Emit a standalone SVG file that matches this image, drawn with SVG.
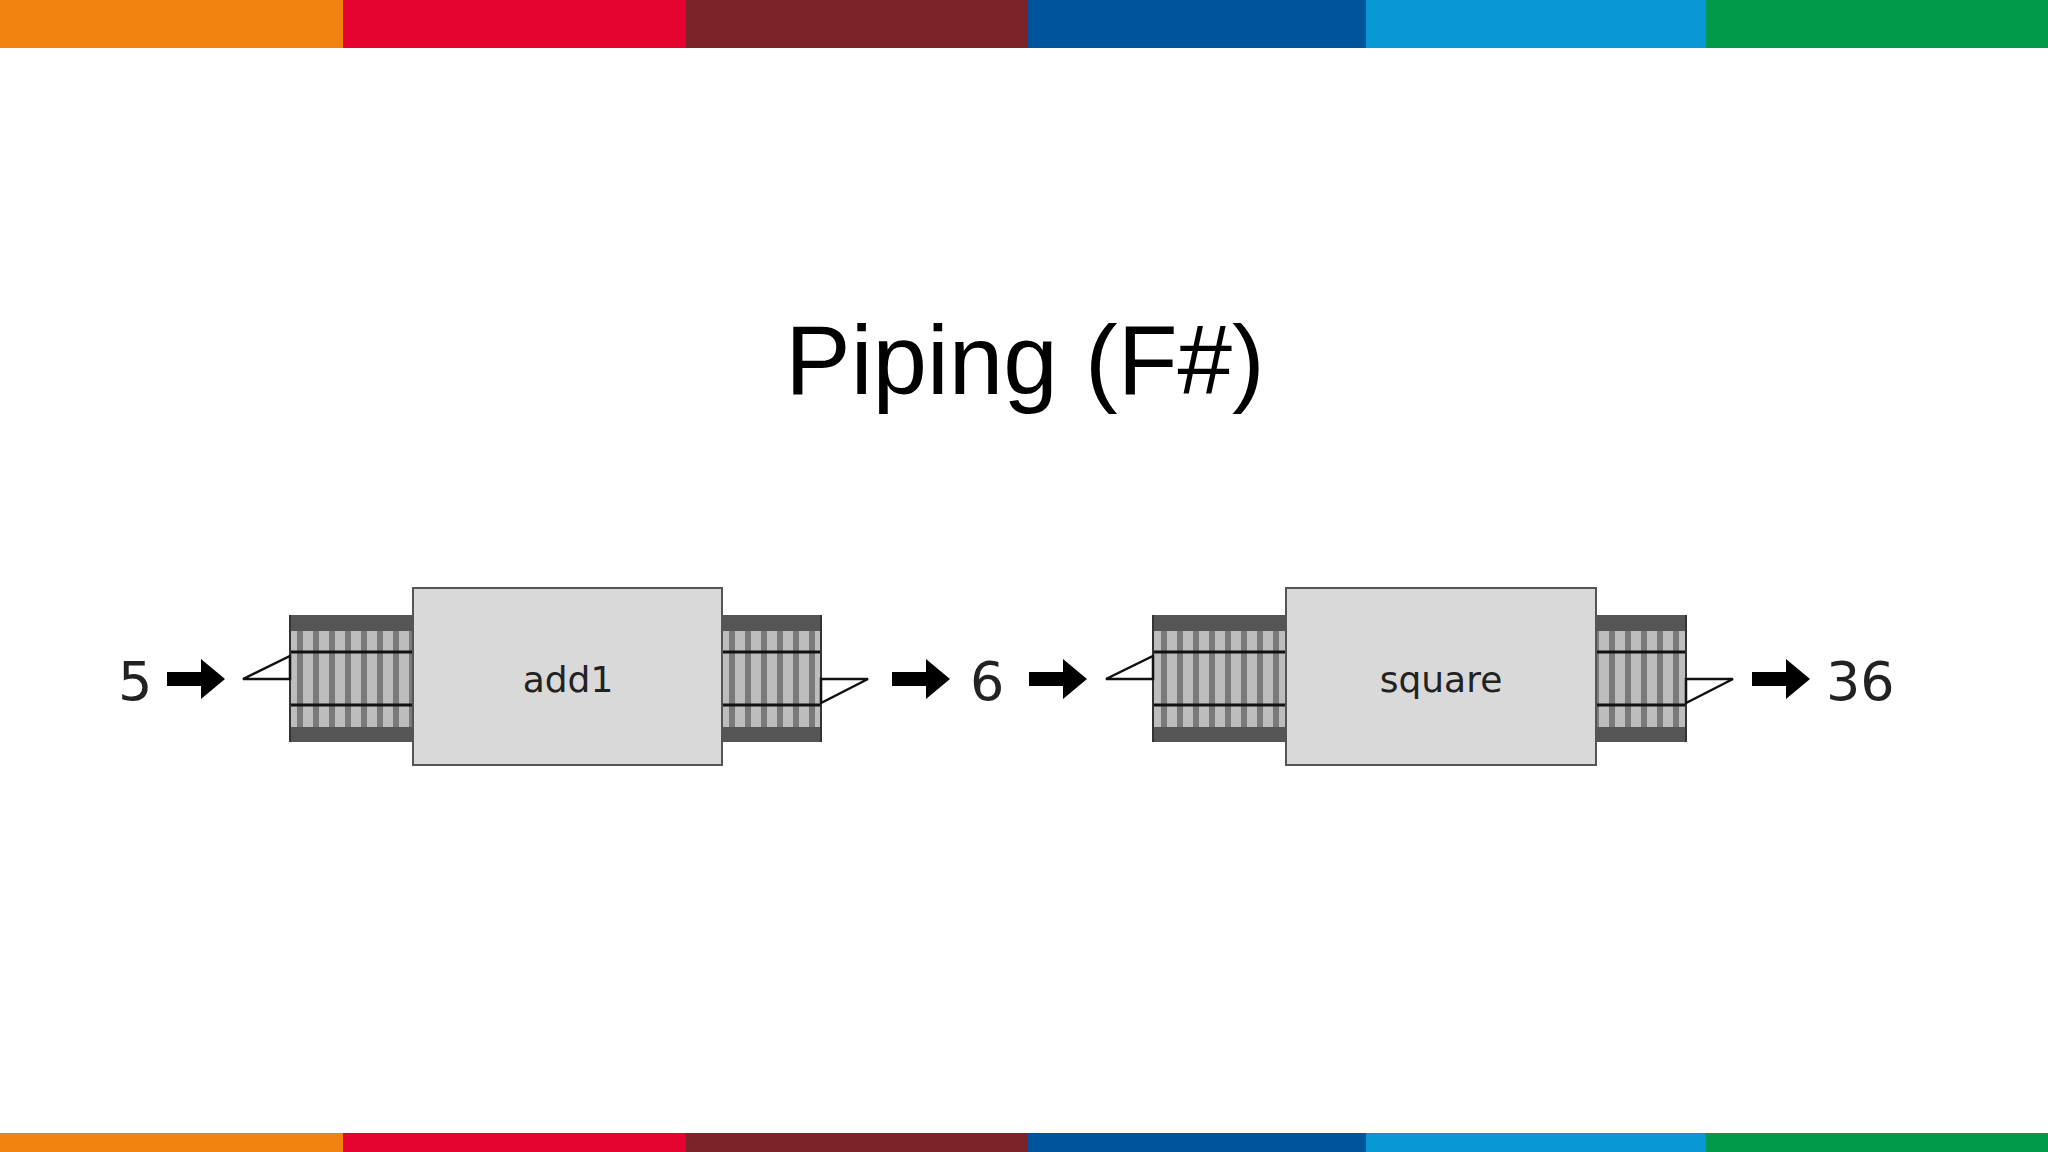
<svg xmlns="http://www.w3.org/2000/svg" width="2048" height="1152" viewBox="0 0 2048 1152">
<style>
.num{font-family:"DejaVu Sans",sans-serif;font-size:54px;fill:#222}
.lbl{font-family:"DejaVu Sans",sans-serif;font-size:36px;fill:#222;text-anchor:middle}
.box{fill:#d9d9d9;stroke:#555;stroke-width:2}
.band{fill:#555}
.rail{stroke:#111;stroke-width:3}
.fun{fill:#fff;stroke:#111;stroke-width:2.5}
.arr{fill:#000}
</style>
<defs>
<pattern id="ties" x="0" y="0" width="16" height="10" patternUnits="userSpaceOnUse">
<rect width="16" height="10" fill="#bdbdbd"/><rect x="9" width="6" height="10" fill="#7a7a7a"/>
</pattern>
<polygon id="arrow" points="0,-7 34,-7 34,-20 58,0 34,20 34,7 0,7"/>
</defs>
<rect width="2048" height="1152" fill="#fff"/>
<g id="topbar">
<rect x="0" y="0" width="343" height="48" fill="#f0820f"/>
<rect x="343" y="0" width="343" height="48" fill="#e4032e"/>
<rect x="686" y="0" width="342" height="48" fill="#7b2329"/>
<rect x="1028" y="0" width="338" height="48" fill="#00559a"/>
<rect x="1366" y="0" width="340" height="48" fill="#0996d4"/>
<rect x="1706" y="0" width="342" height="48" fill="#009a4a"/>
</g>
<g id="bottombar">
<rect x="0" y="1133" width="343" height="19" fill="#f0820f"/>
<rect x="343" y="1133" width="343" height="19" fill="#e4032e"/>
<rect x="686" y="1133" width="342" height="19" fill="#7b2329"/>
<rect x="1028" y="1133" width="338" height="19" fill="#00559a"/>
<rect x="1366" y="1133" width="340" height="19" fill="#0996d4"/>
<rect x="1706" y="1133" width="342" height="19" fill="#009a4a"/>
</g>
<text id="title" x="1025" y="394" font-family="Liberation Sans, Arial, sans-serif" font-size="98" text-anchor="middle" fill="#000">Piping (F#)</text>

<g id="tracks">
<g id="track1">
<rect x="290" y="615" width="123" height="127" class="band"/>
<rect x="290" y="631" width="123" height="96" fill="url(#ties)"/>
<line x1="290" y1="652" x2="413" y2="652" class="rail"/><line x1="290" y1="705" x2="413" y2="705" class="rail"/>
<line x1="290" y1="615" x2="290" y2="742" stroke="#333" stroke-width="2"/>
</g>
<g id="track2">
<rect x="722" y="615" width="99" height="127" class="band"/>
<rect x="722" y="631" width="99" height="96" fill="url(#ties)"/>
<line x1="722" y1="652" x2="821" y2="652" class="rail"/><line x1="722" y1="705" x2="821" y2="705" class="rail"/>
<line x1="821" y1="615" x2="821" y2="742" stroke="#333" stroke-width="2"/>
</g>
<g id="track3">
<rect x="1153" y="615" width="133" height="127" class="band"/>
<rect x="1153" y="631" width="133" height="96" fill="url(#ties)"/>
<line x1="1153" y1="652" x2="1286" y2="652" class="rail"/><line x1="1153" y1="705" x2="1286" y2="705" class="rail"/>
<line x1="1153" y1="615" x2="1153" y2="742" stroke="#333" stroke-width="2"/>
</g>
<g id="track4">
<rect x="1596" y="615" width="90" height="127" class="band"/>
<rect x="1596" y="631" width="90" height="96" fill="url(#ties)"/>
<line x1="1596" y1="652" x2="1686" y2="652" class="rail"/><line x1="1596" y1="705" x2="1686" y2="705" class="rail"/>
<line x1="1686" y1="615" x2="1686" y2="742" stroke="#333" stroke-width="2"/>
</g>
</g>

<g id="add1">
<rect x="413" y="588" width="309" height="177" class="box"/>
<text x="568" y="692" class="lbl">add1</text>
</g>
<g id="square">
<rect x="1286" y="588" width="310" height="177" class="box"/>
<text x="1441" y="692" class="lbl">square</text>
</g>

<g id="funnels">
<polygon points="243,679 290,656 290,679" class="fun"/>
<polygon points="821,679 868,679 821,703" class="fun"/>
<polygon points="1106,679 1153,656 1153,679" class="fun"/>
<polygon points="1686,679 1733,679 1686,703" class="fun"/>
</g>

<g id="connectors">
<use href="#arrow" x="167" y="679" class="arr"/>
<use href="#arrow" x="892" y="679" class="arr"/>
<use href="#arrow" x="1029" y="679" class="arr"/>
<use href="#arrow" x="1752" y="679" class="arr"/>
</g>

<g id="values">
<text x="118" y="700" class="num">5</text>
<text x="970" y="700" class="num">6</text>
<text x="1826" y="700" class="num">36</text>
</g>
</svg>
